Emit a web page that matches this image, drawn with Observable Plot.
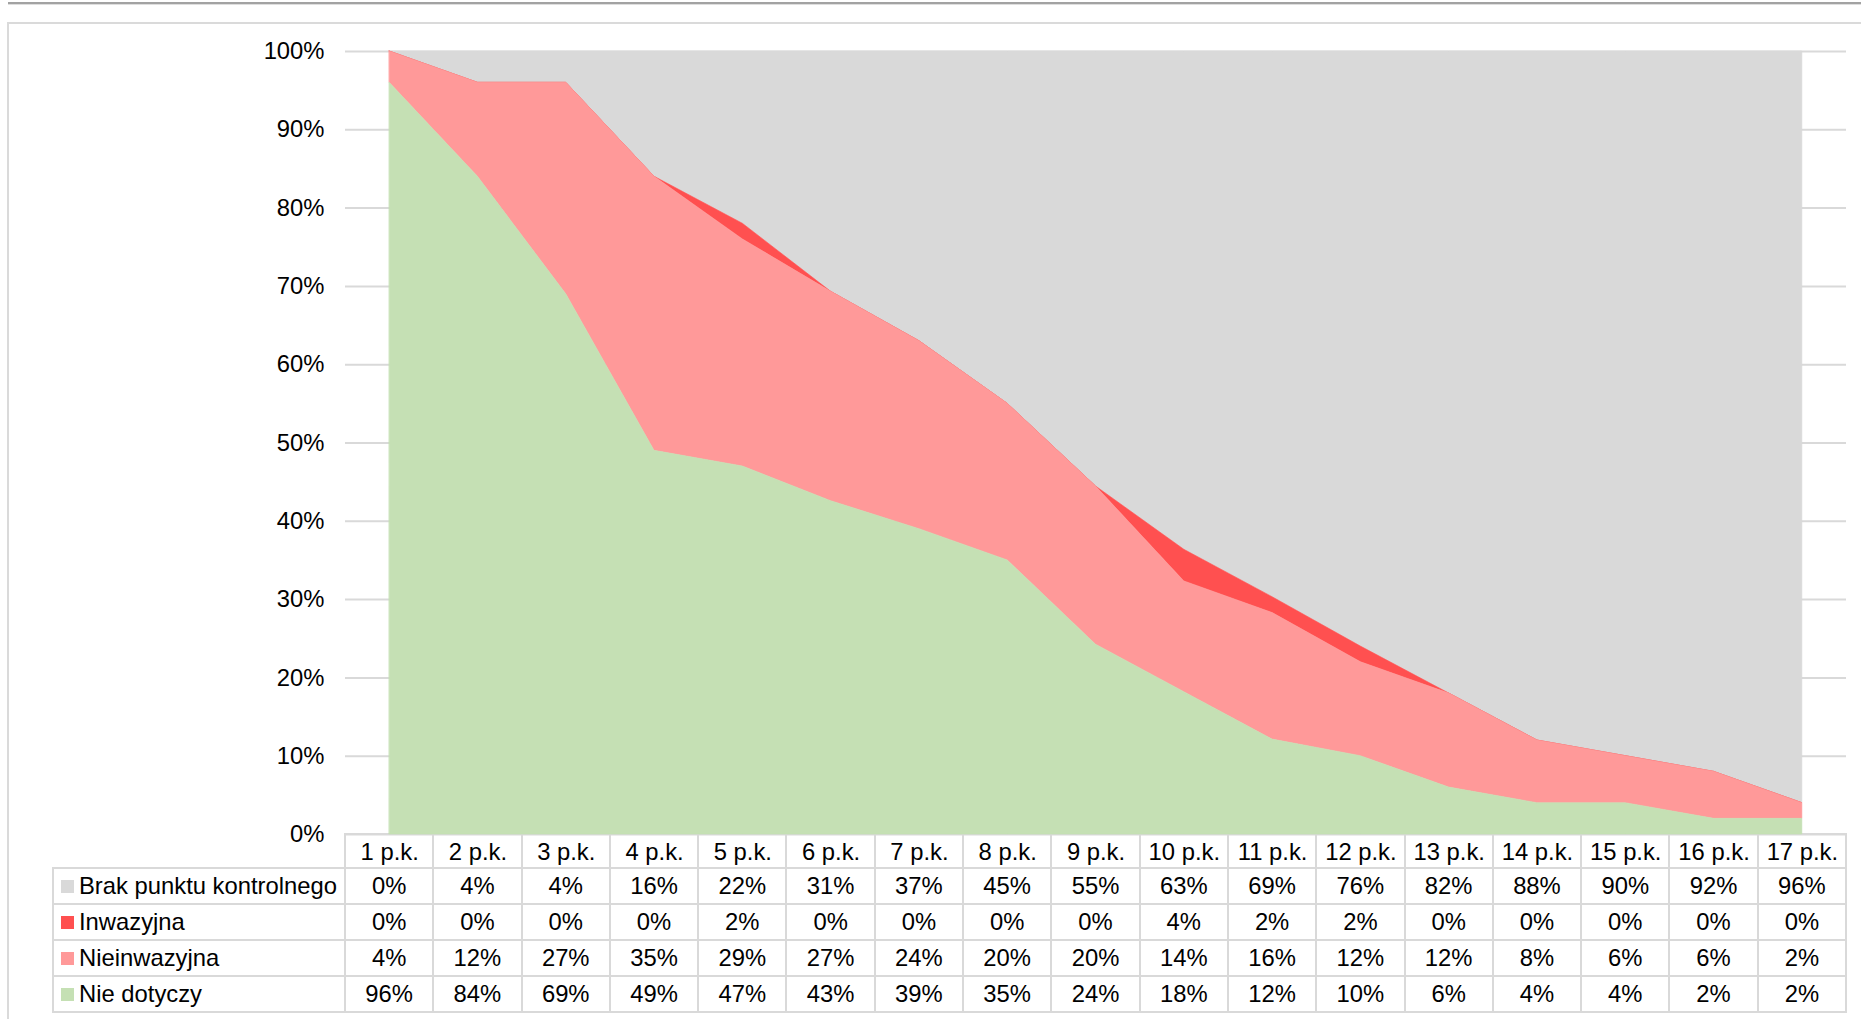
<!DOCTYPE html>
<html>
<head>
<meta charset="utf-8">
<script src="https://cdn.jsdelivr.net/npm/d3@7"></script>
<script src="https://cdn.jsdelivr.net/npm/@observablehq/plot@0.6"></script>
<style>
  html, body { margin: 0; padding: 0; background: #fff; }
  #page { position: relative; width: 1861px; height: 1019px; overflow: hidden; font-family: "Liberation Sans", Arial, sans-serif; color: #000; }
  #topline { position: absolute; left: 8px; right: 0; top: 2px; height: 2px; background: #a2a2a2; border-bottom: 1px solid #dedede; }
  #frame { position: absolute; left: 7px; top: 22px; width: 1900px; height: 1100px; border: 2px solid #dadada; box-sizing: border-box; }
  #chart { position: absolute; left: 0; top: 0; z-index: 2; }
  #table { position: absolute; left: 0; top: 0; width: 1861px; height: 1019px; z-index: 1; }
  .cell { position: absolute; box-sizing: border-box; border: 2px solid #d9d9d9; display: flex; align-items: center; justify-content: center; font-size: 23.8px; white-space: nowrap; }
  .cell.label { justify-content: flex-start; padding-left: 7px; }
  .sw { width: 13px; height: 13px; margin-right: 5px; flex: none; }
</style>
</head>
<body>
<div id="page">
  <div id="topline"></div>
  <div id="frame"></div>
  <div id="table"></div>
  <div id="chart"></div>
</div>
<script>
// ---- data ----
const categories = ["1 p.k.","2 p.k.","3 p.k.","4 p.k.","5 p.k.","6 p.k.","7 p.k.","8 p.k.","9 p.k.","10 p.k.","11 p.k.","12 p.k.","13 p.k.","14 p.k.","15 p.k.","16 p.k.","17 p.k."];
const seriesNames = ["Brak punktu kontrolnego","Inwazyjna","Nieinwazyjna","Nie dotyczy"];
const seriesColors = ["#d9d9d9","#ff5050","#ff9999","#c5e0b4"];
const brak         = [0,4,4,16,22,31,37,45,55,63,69,76,82,88,90,92,96];
const inwazyjna    = [0,0,0,0,2,0,0,0,0,4,2,2,0,0,0,0,0];
const nieinwazyjna = [4,12,27,35,29,27,24,20,20,14,16,12,12,8,6,6,2];
const nieDotyczy   = [96,84,69,49,47,43,39,35,24,18,12,10,6,4,4,2,2];
const seriesValues = [brak, inwazyjna, nieinwazyjna, nieDotyczy];
const yTicks = [0,10,20,30,40,50,60,70,80,90,100];

// ---- layout ----
const W = 1861;
const plotLeft = 345, plotRight = 1846, plotTop = 51, plotBottom = 834;
const headerH = 34, rowH = 36, tableLeft = 53;
const fontFamily = '"Liberation Sans", Arial, sans-serif';

const rows = categories.flatMap((c, i) =>
  seriesNames.map((s, j) => ({cat: c, series: s, value: seriesValues[j][i]})));
const stackOrder = seriesNames.slice().reverse();

const chart = Plot.plot({
  width: W,
  height: plotBottom + headerH,
  marginLeft: plotLeft,
  marginRight: W - plotRight,
  marginTop: plotTop,
  marginBottom: headerH,
  style: {background: "transparent", fontFamily, fontSize: "23.8px", color: "#000", overflow: "visible"},
  x: {type: "point", domain: categories, padding: 0.5, align: 0.5, round: false, tickSize: 0, tickPadding: 9, label: null},
  y: {domain: [0, 1], ticks: yTicks.map(d => d / 100), tickFormat: d => Math.round(d * 100) + "%", tickSize: 0, tickPadding: 21, label: null},
  color: {domain: seriesNames, range: seriesColors},
  marks: [
    Plot.ruleY(yTicks.map(d => d / 100), {stroke: "#d9d9d9", strokeWidth: 2}),
    Plot.areaY(rows, {x: "cat", y: "value", z: "series", fill: "series", stroke: "series", strokeWidth: 0.6, order: stackOrder, offset: "normalize"})
  ]
});
document.getElementById("chart").appendChild(chart);

// ---- data table (legend + values) ----
const table = document.getElementById("table");
const colW = (plotRight - plotLeft) / categories.length;
function addCell(x0, y0, w, h, html, cls) {
  const d = document.createElement("div");
  d.className = "cell" + (cls ? " " + cls : "");
  d.style.left = (x0 - 1) + "px";
  d.style.top = (y0 - 1) + "px";
  d.style.width = (w + 2) + "px";
  d.style.height = (h + 2) + "px";
  d.innerHTML = html;
  table.appendChild(d);
}
// header row: borders only (labels come from the plot's x axis)
categories.forEach((c, i) => addCell(plotLeft + i * colW, plotBottom, colW, headerH, ""));
seriesNames.forEach((s, j) => {
  const y0 = plotBottom + headerH + j * rowH;
  addCell(tableLeft, y0, plotLeft - tableLeft, rowH,
    `<span class="sw" style="background:${seriesColors[j]}"></span><span>${s}</span>`, "label");
  categories.forEach((c, i) => addCell(plotLeft + i * colW, y0, colW, rowH, seriesValues[j][i] + "%"));
});
</script>
</body>
</html>
